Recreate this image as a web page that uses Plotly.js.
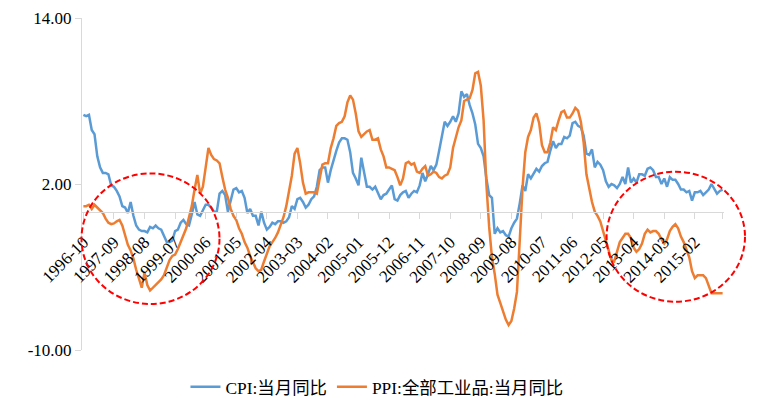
<!DOCTYPE html>
<html>
<head>
<meta charset="utf-8">
<script src="https://cdn.plot.ly/plotly-3.0.1.min.js"></script>
<style>html,body{margin:0;padding:0;background:#fff;}#chart{width:760px;height:412px;}</style>
</head>
<body>
<div id="chart"></div>
<script>
// Months 1996-10 .. 2015-12 (231 categories)
const startYear = 1996, startMonth = 10, monthCount = 231;
const months = [];
for (let i = 0; i < monthCount; i++) {
  const m = startMonth - 1 + i;
  const y = startYear + Math.floor(m / 12);
  const mm = (m % 12) + 1;
  months.push(y + '-' + (mm < 10 ? '0' + mm : mm));
}

const cpiName = 'CPI:当月同比';
const ppiName = 'PPI:全部工业品:当月同比';

const cpi = [
  7.0, 6.9, 7.0,
  5.9, 5.6, 4.0, 3.2, 2.8, 2.8, 2.7, 1.9, 1.8, 1.5, 1.1, 0.4,
  0.3, -0.1, 0.7, -0.3, -1.0, -1.3, -1.4, -1.4, -1.5, -1.1, -1.2, -1.0,
  -1.2, -1.3, -1.8, -2.2, -2.2, -2.1, -1.4, -1.3, -0.8, -0.6, -0.9, -1.0,
  -0.2, 0.7, -0.2, -0.3, 0.1, 0.5, 0.5, 0.3, 0.0, 0.0, 1.3, 1.5,
  1.2, 0.0, 0.8, 1.6, 1.7, 1.4, 1.5, 1.0, -0.1, 0.2, -0.3, -0.3,
  -1.0, 0.0, -0.8, -1.3, -1.1, -0.8, -0.9, -0.7, -0.7, -0.8, -0.7, -0.4,
  0.4, 0.2, 0.9, 1.0, 0.7, 0.3, 0.5, 0.9, 1.1, 1.8, 3.0, 3.2,
  3.2, 2.1, 3.0, 3.8, 4.4, 5.0, 5.3, 5.3, 5.2, 4.3, 2.8, 2.4,
  1.9, 3.9, 2.7, 1.8, 1.8, 1.6, 1.8, 1.3, 0.9, 1.2, 1.3, 1.6,
  1.9, 0.9, 0.8, 1.2, 1.4, 1.5, 1.0, 1.3, 1.5, 1.4, 1.9, 2.8,
  2.2, 2.7, 3.3, 3.0, 3.4, 4.4, 5.6, 6.5, 6.2, 6.5, 6.9, 6.5,
  7.1, 8.7, 8.3, 8.5, 7.7, 7.1, 6.3, 4.9, 4.6, 4.0, 2.4, 1.2,
  1.0, -1.6, -1.2, -1.5, -1.4, -1.7, -1.8, -1.2, -0.8, -0.5, 0.6, 1.9,
  1.5, 2.7, 2.4, 2.8, 3.1, 2.9, 3.3, 3.5, 3.6, 4.4, 5.1, 4.6,
  4.9, 4.9, 5.4, 5.3, 5.5, 6.4, 6.5, 6.2, 6.1, 5.5, 4.2, 4.1,
  4.5, 3.2, 3.6, 3.4, 3.0, 2.2, 1.8, 2.0, 1.9, 1.7, 2.0, 2.5,
  2.0, 3.2, 2.1, 2.4, 2.1, 2.7, 2.7, 2.6, 3.1, 3.2, 3.0, 2.5,
  2.5, 2.0, 2.4, 1.8, 2.5, 2.3, 2.3, 2.0, 1.6, 1.6, 1.4, 1.5,
  0.8, 1.4, 1.4, 1.5, 1.2, 1.4, 1.6, 2.0, 1.6, 1.3, 1.5, 1.6
];

const ppi = [
  0.4, 0.4, 0.5,
  0.2, 0.5, 0.3, 0.1, -0.1, -0.5, -0.8, -0.9, -0.85, -0.7, -0.6, -1.0,
  -1.8, -2.4, -2.8, -3.4, -4.2, -4.8, -5.5, -4.4, -5.3, -5.7, -5.5, -5.3,
  -5.1, -4.9, -4.6, -4.1, -3.5, -3.2, -3.1, -2.7, -2.2, -1.8, -1.2, -0.4,
  0.4, 1.6, 2.65, 1.3, 1.8, 3.2, 4.6, 4.1, 3.8, 3.7, 3.5, 2.5,
  1.6, 1.0, 0.2, -0.3, -0.6, -1.2, -1.6, -2.2, -2.6, -3.2, -3.6, -4.1,
  -4.3, -4.2, -3.6, -3.0, -2.5, -2.2, -1.9, -1.5, -1.0, -0.4, 0.4, 1.5,
  2.6, 4.2, 4.6, 3.5, 2.1, 1.3, 1.4, 1.4, 1.4, 1.3, 2.3, 3.4,
  3.5, 3.5, 4.6, 5.3, 6.2, 6.4, 6.5, 6.9, 7.9, 8.4, 8.1, 7.1,
  5.8, 5.4, 5.6, 5.8, 5.9, 5.2, 5.2, 5.3, 4.5, 4.0, 3.2, 3.2,
  3.1, 3.0, 2.5, 1.9, 2.4, 3.5, 3.6, 3.4, 3.5, 2.9, 2.8, 3.1,
  3.3, 2.6, 2.7, 2.9, 2.8, 2.5, 2.4, 2.6, 2.7, 3.2, 4.6, 5.4,
  6.1, 6.6, 8.0, 8.1, 8.2, 8.8, 10.0, 10.1, 9.1, 6.6, 2.0, -1.1,
  -3.3, -4.5, -6.0, -6.6, -7.2, -7.8, -8.2, -7.9, -7.0, -5.8, -2.1, 1.7,
  4.3, 5.4, 5.9, 6.8, 7.1, 6.4, 4.8, 4.3, 4.3, 5.0, 6.1, 5.9,
  6.6, 7.2, 7.3, 6.8, 6.8, 7.1, 7.5, 7.3, 6.5, 5.0, 2.7, 1.7,
  0.7, 0.0, -0.3, -0.7, -1.4, -2.1, -2.9, -3.5, -3.6, -2.8, -2.2, -1.9,
  -1.6, -1.6, -1.9, -2.6, -2.9, -2.7, -2.3, -1.6, -1.3, -1.5, -1.4, -1.4,
  -1.6, -2.0, -2.3, -2.0, -1.4, -1.1, -0.9, -1.2, -1.8, -2.2, -2.7, -3.3,
  -4.3, -4.8, -4.6, -4.6, -4.6, -4.8, -5.4, -5.9, -5.9, -5.9, -5.9, -5.9
];

const xTickLabels = ['1996-10','1997-09','1998-08','1999-07','2000-06','2001-05','2002-04',
  '2003-03','2004-02','2005-01','2005-12','2006-11','2007-10','2008-09','2009-08','2010-07',
  '2011-06','2012-05','2013-04','2014-03','2015-02'];
const yTickVals = [-10, 2, 14];
const yTickLabels = ['-10.00', '2.00', '14.00'];

const yMin = -10, yMax = 14;
const serif = '"Liberation Serif", "Times New Roman", "Noto Sans CJK SC", serif';

const traces = [
  {x: months, y: cpi, name: cpiName, type: 'scatter', mode: 'lines',
   line: {color: '#5B9BD5', width: 2.5}},
  {x: months, y: ppi, name: ppiName, type: 'scatter', mode: 'lines',
   line: {color: '#ED7D31', width: 2.5}}
];

// plot area in pixels: x 82..724, y 18..350
const L = 82, R = 724, T = 18, B = 350;
function px(v) { return (v - L) / (R - L); }
function py(v) { return (B - v) / (B - T); }

const ellipse = (cx, cy, rx, ry) => ({
  type: 'circle', xref: 'paper', yref: 'paper', layer: 'above',
  x0: px(cx - rx), x1: px(cx + rx), y0: py(cy + ry), y1: py(cy - ry),
  line: {color: '#FF0000', width: 2, dash: '6px,3px'}, fillcolor: 'rgba(0,0,0,0)'
});

const layout = {
  width: 760, height: 412,
  margin: {l: L, r: 760 - R, t: T, b: 412 - B, pad: 0, autoexpand: false},
  paper_bgcolor: '#ffffff', plot_bgcolor: '#ffffff',
  showlegend: true,
  legend: {orientation: 'h', xref: 'container', yref: 'container',
    x: 0.496, xanchor: 'center', y: (412 - 387) / 412, yanchor: 'middle',
    font: {family: serif, size: 17.4, color: '#000'}, itemwidth: 30},
  xaxis: {
    type: 'category', range: [-0.5, monthCount - 0.5], autorange: false,
    anchor: 'free', position: (0 - yMin) / (yMax - yMin),
    tickmode: 'array', tickvals: xTickLabels.concat([months[monthCount - 1]]),
    ticktext: xTickLabels.concat(['']),
    tickangle: -45, ticks: 'outside', ticklen: 6, tickcolor: '#d9d9d9',
    ticklabelstandoff: 7,
    showline: true, linecolor: '#d9d9d9', linewidth: 1,
    showgrid: false, zeroline: false, automargin: false,
    tickfont: {family: serif, size: 17, color: '#000'}
  },
  yaxis: {
    range: [yMin, yMax], autorange: false,
    tickmode: 'array', tickvals: yTickVals, ticktext: yTickLabels,
    ticks: 'outside', ticklen: 6, tickcolor: '#d9d9d9',
    showline: true, linecolor: '#d9d9d9', linewidth: 1,
    showgrid: false, zeroline: false, automargin: false,
    tickfont: {family: serif, size: 17, color: '#000'}
  },
  shapes: [ellipse(150.5, 238.7, 69, 65.3), ellipse(675.8, 236.7, 69.2, 65)]
};

Plotly.newPlot('chart', traces, layout, {displayModeBar: false, staticPlot: true});
</script>
</body>
</html>
